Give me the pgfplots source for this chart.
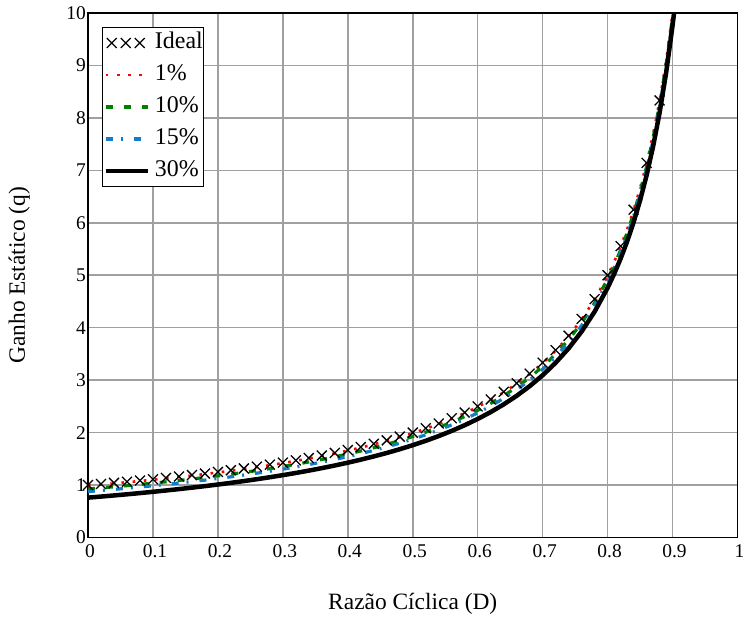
\documentclass[border=0pt]{standalone}
\usepackage{fontspec}
\setmainfont{Liberation Serif}
\usepackage{pgfplots}
\pgfplotsset{compat=1.18}
\usepackage{pgfplotstable}

\definecolor{cred}{RGB}{255,0,0}
\definecolor{cgreen}{RGB}{0,128,0}
\definecolor{cblue}{RGB}{20,125,200}
\definecolor{cgrid}{RGB}{160,160,160}

\pgfplotsset{threemarks/.style={legend image code/.code={\draw[##1] plot coordinates {(6bp,0bp) (20bp,0bp) (34bp,0bp)};}}}

\pgfplotstableread{
D q
0 1
0.02 1.0204
0.04 1.0417
0.06 1.0638
0.08 1.0870
0.10 1.1111
0.12 1.1364
0.14 1.1628
0.16 1.1905
0.18 1.2195
0.20 1.25
0.22 1.2821
0.24 1.3158
0.26 1.3514
0.28 1.3889
0.30 1.4286
0.32 1.4706
0.34 1.5152
0.36 1.5625
0.38 1.6129
0.40 1.6667
0.42 1.7241
0.44 1.7857
0.46 1.8519
0.48 1.9231
0.50 2
0.52 2.0833
0.54 2.1739
0.56 2.2727
0.58 2.3810
0.60 2.5
0.62 2.6316
0.64 2.7778
0.66 2.9412
0.68 3.125
0.70 3.3333
0.72 3.5714
0.74 3.8462
0.76 4.1667
0.78 4.5455
0.80 5
0.82 5.5556
0.84 6.25
0.86 7.1429
0.88 8.3333
}\ideal

\pgfplotstableread{
D p1 p10 p15 p30
0 0.99 0.925 0.875 0.76
0.02 1.0104 0.9454 0.8954 0.7804
0.04 1.0317 0.9667 0.9167 0.8017
0.06 1.0538 0.9888 0.9388 0.8238
0.08 1.0770 1.0120 0.9620 0.8470
0.10 1.1011 1.0361 0.9861 0.8711
0.12 1.1264 1.0614 1.0114 0.8964
0.14 1.1528 1.0878 1.0378 0.9228
0.16 1.1805 1.1155 1.0655 0.9505
0.18 1.2095 1.1445 1.0945 0.9795
0.20 1.24 1.175 1.125 1.01
0.22 1.2721 1.2071 1.1571 1.0421
0.24 1.3058 1.2408 1.1908 1.0758
0.26 1.3414 1.2764 1.2264 1.1114
0.28 1.3789 1.3139 1.2639 1.1489
0.30 1.4186 1.3536 1.3036 1.1886
0.32 1.4606 1.3956 1.3456 1.2306
0.34 1.5052 1.4402 1.3902 1.2752
0.36 1.5525 1.4875 1.4375 1.3225
0.38 1.6029 1.5379 1.4879 1.3729
0.40 1.6567 1.5917 1.5417 1.4267
0.42 1.7141 1.6491 1.5991 1.4841
0.44 1.7757 1.7107 1.6607 1.5457
0.46 1.8419 1.7769 1.7269 1.6119
0.48 1.9131 1.8481 1.7981 1.6831
0.50 1.99 1.925 1.875 1.76
0.52 2.0733 2.0083 1.9583 1.8433
0.54 2.1639 2.0989 2.0489 1.9339
0.56 2.2627 2.1977 2.1477 2.0327
0.58 2.3710 2.3060 2.2560 2.1410
0.60 2.49 2.425 2.375 2.26
0.62 2.6216 2.5566 2.5066 2.3916
0.64 2.7678 2.7028 2.6528 2.5378
0.66 2.9312 2.8662 2.8162 2.7012
0.68 3.115 3.05 3.0 2.885
0.70 3.3233 3.2583 3.2083 3.0933
0.72 3.5614 3.4964 3.4464 3.3314
0.74 3.8362 3.7712 3.7212 3.6062
0.76 4.1567 4.0917 4.0417 3.9267
0.78 4.5355 4.4705 4.4205 4.3055
0.80 4.99 4.925 4.875 4.76
0.81 5.2532 5.1882 5.1382 5.0232
0.82 5.5456 5.4806 5.4306 5.3156
0.83 5.8724 5.8074 5.7574 5.6424
0.84 6.24 6.175 6.125 6.01
0.85 6.6567 6.5917 6.5417 6.4267
0.86 7.1329 7.0679 7.0179 6.9029
0.87 7.6823 7.6173 7.5673 7.4523
0.88 8.3233 8.2583 8.2083 8.0933
0.89 9.0809 9.0159 8.9659 8.8509
0.90 9.99 9.925 9.875 9.76
0.905 10.5163 10.4513 10.4013 10.2863
}\curves

\begin{document}
\begin{tikzpicture}
\begin{axis}[name=ax, at={(0,0)}, anchor=south west,
  scale only axis, width=649.5bp, height=524.5bp,
  xmin=0, xmax=1, ymin=0, ymax=10,
  xtick={0,0.1,0.2,0.3,0.4,0.5,0.6,0.7,0.8,0.9,1},
  ytick={0,1,2,3,4,5,6,7,8,9,10},
  grid=major,
  major grid style={draw=cgrid, line width=1.5bp},
  axis line style={line width=1.6bp, draw=black},
  major tick length=0pt,
  /pgf/number format/assume math mode=true,
  tick label style={font=\fontsize{19.5}{22}\selectfont, inner sep=1bp},
  xticklabel style={anchor=north, yshift=-6bp, xshift=2bp},
  yticklabel style={anchor=east, xshift=-1bp},
  legend style={at={(axis description cs:0,1)}, anchor=north west,
    xshift=14bp, yshift=-14bp, draw=black, line width=1bp,
    inner xsep=1bp, inner ysep=5bp,
    font=\fontsize{24}{27}\selectfont,
    row sep=11bp,
    nodes={inner sep=0pt, text height=16bp, text depth=5bp},
    /tikz/every odd column/.append style={column sep=5bp}},
  legend cell align=left,
  legend image code/.code={\draw[#1] (0bp,0bp) -- (42bp,0bp);},
]
\addplot[only marks, mark=x, mark size=7bp, black, line width=1.3bp, threemarks]
  table[x=D, y=q] {\ideal};
\addlegendentry{Ideal\hspace{15bp}}
\addplot[cred, line width=2.6bp, dash pattern=on 2.6bp off 8.6bp] table[x=D, y=p1] {\curves};
\addlegendentry{1\%}
\addplot[cgreen, line width=3.2bp, dash pattern=on 7bp off 11bp] table[x=D, y=p10] {\curves};
\addlegendentry{10\%}
\addplot[cblue, line width=3.2bp, dash pattern=on 7bp off 8bp on 2bp off 11bp] table[x=D, y=p15] {\curves};
\addlegendentry{15\%}
\addplot[black, line width=4.5bp] table[x=D, y=p30] {\curves};
\addlegendentry{30\%}
\end{axis}
\node[anchor=base, font=\fontsize{23.5}{26}\selectfont] at ([yshift=-71.5bp]ax.south) {Razão Cíclica (D)};
\node[anchor=base, rotate=90, font=\fontsize{23.5}{26}\selectfont] at ([xshift=-63bp]ax.west) {Ganho Estático (q)};
\pgfresetboundingbox
\path[use as bounding box] ([xshift=-88bp,yshift=-81.5bp]ax.south west) rectangle ([xshift=5.5bp,yshift=13bp]ax.north east);
\end{tikzpicture}
\end{document}
